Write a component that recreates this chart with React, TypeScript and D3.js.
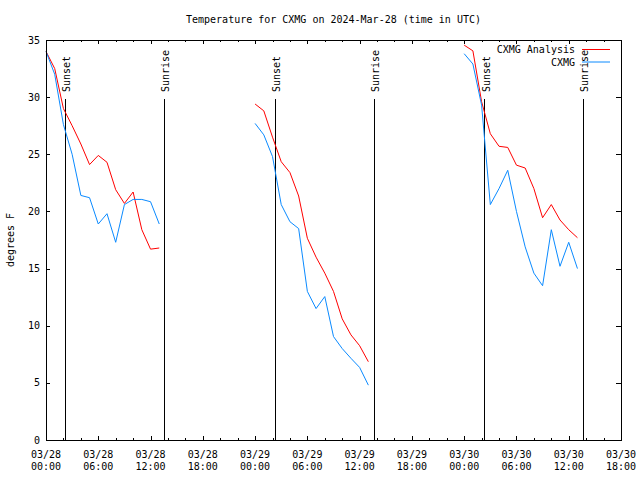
import React from "react";
import * as d3 from "d3";

// ---- Data (hours since 2024-03-28 00:00 UTC) ----
const seg1Hours = [0, 1, 2, 3, 4, 5, 6, 7, 8, 9, 10, 11, 12, 13];
const seg2Hours = [24, 25, 26, 27, 28, 29, 30, 31, 32, 33, 34, 35, 36, 37];
const seg3Hours = [48, 49, 50, 51, 52, 53, 54, 55, 56, 57, 58, 59, 60, 61];

const analysis1 = [34.0, 32.5, 29.0, 27.5, 25.9, 24.1, 24.9, 24.3, 21.9, 20.7, 21.7, 18.4, 16.7, 16.8];
const analysis2 = [29.4, 28.8, 26.5, 24.35, 23.4, 21.35, 17.65, 16.0, 14.6, 13.0, 10.6, 9.2, 8.25, 6.85];
const analysis3 = [34.55, 34.05, 29.6, 26.8, 25.7, 25.6, 24.05, 23.8, 22.0, 19.45, 20.6, 19.25, 18.4, 17.7];

const observed1 = [34.0, 32.0, 27.6, 25.0, 21.4, 21.2, 18.9, 19.8, 17.3, 20.6, 21.05, 21.05, 20.85, 18.9];
const observed2 = [27.7, 26.7, 24.8, 20.6, 19.1, 18.5, 13.0, 11.5, 12.55, 9.05, 8.0, 7.15, 6.35, 4.8];
const observed3 = [33.8, 32.9, 29.3, 20.6, 22.0, 23.6, 20.0, 16.9, 14.6, 13.5, 18.4, 15.2, 17.3, 15.0];

const sunsetHours = [2.2, 26.3, 50.3];
const sunriseHours = [13.55, 37.6, 61.6];

const xMajorTicks = [0, 6, 12, 18, 24, 30, 36, 42, 48, 54, 60, 66];
const xTickDates = ["03/28", "03/28", "03/28", "03/28", "03/29", "03/29", "03/29", "03/29", "03/30", "03/30", "03/30", "03/30"];
const xTickTimes = ["00:00", "06:00", "12:00", "18:00", "00:00", "06:00", "12:00", "18:00", "00:00", "06:00", "12:00", "18:00"];
const yTicks = [0, 5, 10, 15, 20, 25, 30, 35];

const seriesNames = ["CXMG Analysis", "CXMG"];
const seriesColors = ["#ff0000", "#0a8aff"];

const W = 640, H = 480;
const L = 46, R = 621, T = 40, B = 440;
const FONT = "'DejaVu Sans Mono', monospace";

export default function App() {
  const x = d3.scaleLinear().domain([0, 66]).range([L, R]);
  const y = d3.scaleLinear().domain([0, 35]).range([B, T]);
  const line = d3.line<[number, number]>().x(d => x(d[0])).y(d => y(d[1]));

  const zip = (hs: number[], vs: number[]) => hs.map((h, i) => [h, vs[i]] as [number, number]);
  const analysis = [zip(seg1Hours, analysis1), zip(seg2Hours, analysis2), zip(seg3Hours, analysis3)];
  const observed = [zip(seg1Hours, observed1), zip(seg2Hours, observed2), zip(seg3Hours, observed3)];

  const minorTicks = d3.range(0, 67, 2).filter(h => h % 6 !== 0);

  return (
    <svg width={W} height={H} style={{ position: "absolute", left: 0, top: 0, background: "#fff" }}
      fontFamily={FONT} fontSize={10}>
      <rect x={0} y={0} width={W} height={H} fill="#fff" />
      <text x={(L + R) / 2} y={23} textAnchor="middle" fill="#000">
        Temperature for CXMG on 2024-Mar-28 (time in UTC)
      </text>
      {/* y ticks */}
      {yTicks.map(t => (
        <g key={"y" + t}>
          <line x1={L} x2={L + 4} y1={Math.round(y(t)) + 0.5} y2={Math.round(y(t)) + 0.5} stroke="#000" />
          <line x1={R - 5} x2={R} y1={Math.round(y(t)) + 0.5} y2={Math.round(y(t)) + 0.5} stroke="#000" />
          <text x={40} y={y(t) + 3.5} textAnchor="end" fill="#000">{t}</text>
        </g>
      ))}
      {/* x ticks */}
      {xMajorTicks.map((t, i) => (
        <g key={"x" + t}>
          <line x1={Math.round(x(t)) + 0.5} x2={Math.round(x(t)) + 0.5} y1={B} y2={B - 4} stroke="#000" />
          <line x1={Math.round(x(t)) + 0.5} x2={Math.round(x(t)) + 0.5} y1={T} y2={T + 4} stroke="#000" />
          <text x={x(t)} y={458} textAnchor="middle" fill="#000">{xTickDates[i]}</text>
          <text x={x(t)} y={470} textAnchor="middle" fill="#000">{xTickTimes[i]}</text>
        </g>
      ))}
      {minorTicks.map(t => (
        <g key={"m" + t}>
          <line x1={Math.round(x(t)) + 0.5} x2={Math.round(x(t)) + 0.5} y1={B} y2={B - 2} stroke="#000" />
          <line x1={Math.round(x(t)) + 0.5} x2={Math.round(x(t)) + 0.5} y1={T} y2={T + 2} stroke="#000" />
        </g>
      ))}
      <text transform={`translate(14,${(T + B) / 2}) rotate(-90)`} textAnchor="middle" fill="#000">degrees F</text>
      {/* sunset / sunrise */}
      {sunsetHours.map(h => (
        <g key={"ss" + h}>
          <line x1={Math.round(x(h)) + 0.5} x2={Math.round(x(h)) + 0.5} y1={B} y2={99} stroke="#000" />
          <text transform={`translate(${x(h) + 5.3},92) rotate(-90)`} fill="#000">Sunset</text>
        </g>
      ))}
      {sunriseHours.map(h => (
        <g key={"sr" + h}>
          <line x1={Math.round(x(h)) + 0.5} x2={Math.round(x(h)) + 0.5} y1={B} y2={99} stroke="#000" />
          <text transform={`translate(${x(h) + 5.3},92) rotate(-90)`} fill="#000">Sunrise</text>
        </g>
      ))}
      {/* data */}
      {analysis.map((seg, i) => (
        <path key={"a" + i} d={line(seg) || ""} fill="none" stroke={seriesColors[0]} strokeWidth={1} />
      ))}
      {observed.map((seg, i) => (
        <path key={"o" + i} d={line(seg) || ""} fill="none" stroke={seriesColors[1]} strokeWidth={1} />
      ))}
      {/* legend */}
      {seriesNames.map((n, i) => (
        <g key={"lg" + i}>
          <text x={575} y={53 + i * 12.5} textAnchor="end" fill="#000">{n}</text>
          <line x1={582} x2={610} y1={49.5 + i * 12.5} y2={49.5 + i * 12.5} stroke={seriesColors[i]} />
        </g>
      ))}
      {/* frame */}
      <rect x={L + 0.5} y={T + 0.5} width={R - L} height={B - T} fill="none" stroke="#000" />
    </svg>
  );
}
